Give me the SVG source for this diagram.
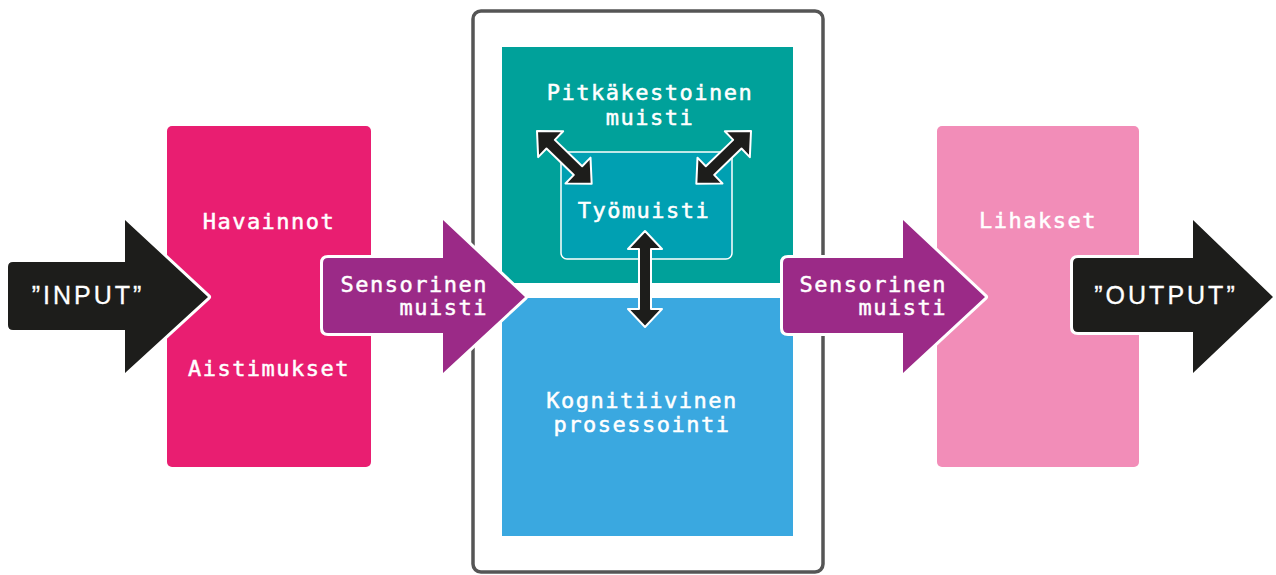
<svg xmlns="http://www.w3.org/2000/svg" width="1276" height="575" viewBox="0 0 1276 575">
<style>
.lbl{font-family:"DejaVu Sans Mono","Liberation Mono",monospace;font-size:22px;letter-spacing:1.5px;fill:#fff;stroke:#fff;stroke-width:0.5px;text-anchor:middle}
.lblr{text-anchor:end}
.big{font-family:"Liberation Sans",Arial,sans-serif;font-size:25px;letter-spacing:3px;fill:#fff;stroke:#fff;stroke-width:0.3px;text-anchor:middle}
.arr{stroke:#fff;stroke-width:6;stroke-linejoin:round;paint-order:stroke}
.dbl{fill:#1d1d1b;stroke:#fff;stroke-width:2;stroke-linejoin:round}
</style>
<rect width="1276" height="575" fill="#fff"/>
<g id="frame">
<rect x="473" y="11" width="350" height="561" rx="8" fill="none" stroke="#555" stroke-width="3.5"/>
</g>
<g id="havainnot">
<rect x="167" y="126" width="204" height="341" rx="5" fill="#E91E71"/>
<text class="lbl" x="269" y="229">Havainnot</text>
<text class="lbl" x="269" y="376">Aistimukset</text>
</g>
<g id="pitkakestoinen">
<rect x="502" y="47" width="291" height="236" fill="#00A19A"/>
<text class="lbl" x="650" y="100">Pitkäkestoinen</text>
<text class="lbl" x="650" y="125">muisti</text>
</g>
<g id="kognitiivinen">
<rect x="502" y="298" width="291" height="238" fill="#3AA8E0"/>
<text class="lbl" x="642" y="408">Kognitiivinen</text>
<text class="lbl" x="642" y="432">prosessointi</text>
</g>
<g id="tyomuisti">
<rect x="561" y="152" width="171" height="107" rx="6" fill="#00A0B2" stroke="#fff" stroke-width="1.5"/>
<text class="lbl" x="644" y="218">Työmuisti</text>
</g>
<g id="lihakset">
<rect x="937" y="126" width="202" height="341" rx="5" fill="#F28DB8"/>
<text class="lbl" x="1038" y="228">Lihakset</text>
</g>
<g id="connectors">
<g id="input">
<path class="arr" fill="#1d1d1b" d="M13,262 H125 V220 L208,297 L125,373 V330 H13 Q8,330 8,325 V267 Q8,262 13,262 Z"/>
<text class="big" x="88" y="304">”INPUT”</text>
</g>
<g id="sensorinen1">
<path class="arr" fill="#9B2A87" d="M328,258 H443 V220 L525,297 L443,373 V333 H328 Q323,333 323,328 V263 Q323,258 328,258 Z"/>
<text class="lbl lblr" x="488" y="292">Sensorinen</text>
<text class="lbl lblr" x="488" y="315">muisti</text>
</g>
<g id="sensorinen2">
<path class="arr" fill="#9B2A87" d="M788,258 H903 V220 L985,297 L903,373 V333 H788 Q783,333 783,328 V263 Q783,258 788,258 Z"/>
<text class="lbl lblr" x="947" y="292">Sensorinen</text>
<text class="lbl lblr" x="947" y="315">muisti</text>
</g>
<g id="output">
<path class="arr" fill="#1d1d1b" d="M1078,258 H1193 V220 L1273,297 L1193,373 V332 H1078 Q1073,332 1073,327 V263 Q1073,258 1078,258 Z"/>
<text class="big" x="1166" y="304">”OUTPUT”</text>
</g>
<path class="dbl" transform="translate(537,131) rotate(44)" d="M0,0 L19,-18 L19,-6 L57,-6 L57,-18 L76,0 L57,18 L57,6 L19,6 L19,18 Z"/>
<path class="dbl" transform="translate(751,131) rotate(136)" d="M0,0 L19,-18 L19,-6 L57,-6 L57,-18 L76,0 L57,18 L57,6 L19,6 L19,18 Z"/>
<path class="dbl" transform="translate(645,231) rotate(90)" d="M0,0 L18,-17 L18,-6 L78,-6 L78,-17 L96,0 L78,17 L78,6 L18,6 L18,17 Z"/>
</g>
</svg>
